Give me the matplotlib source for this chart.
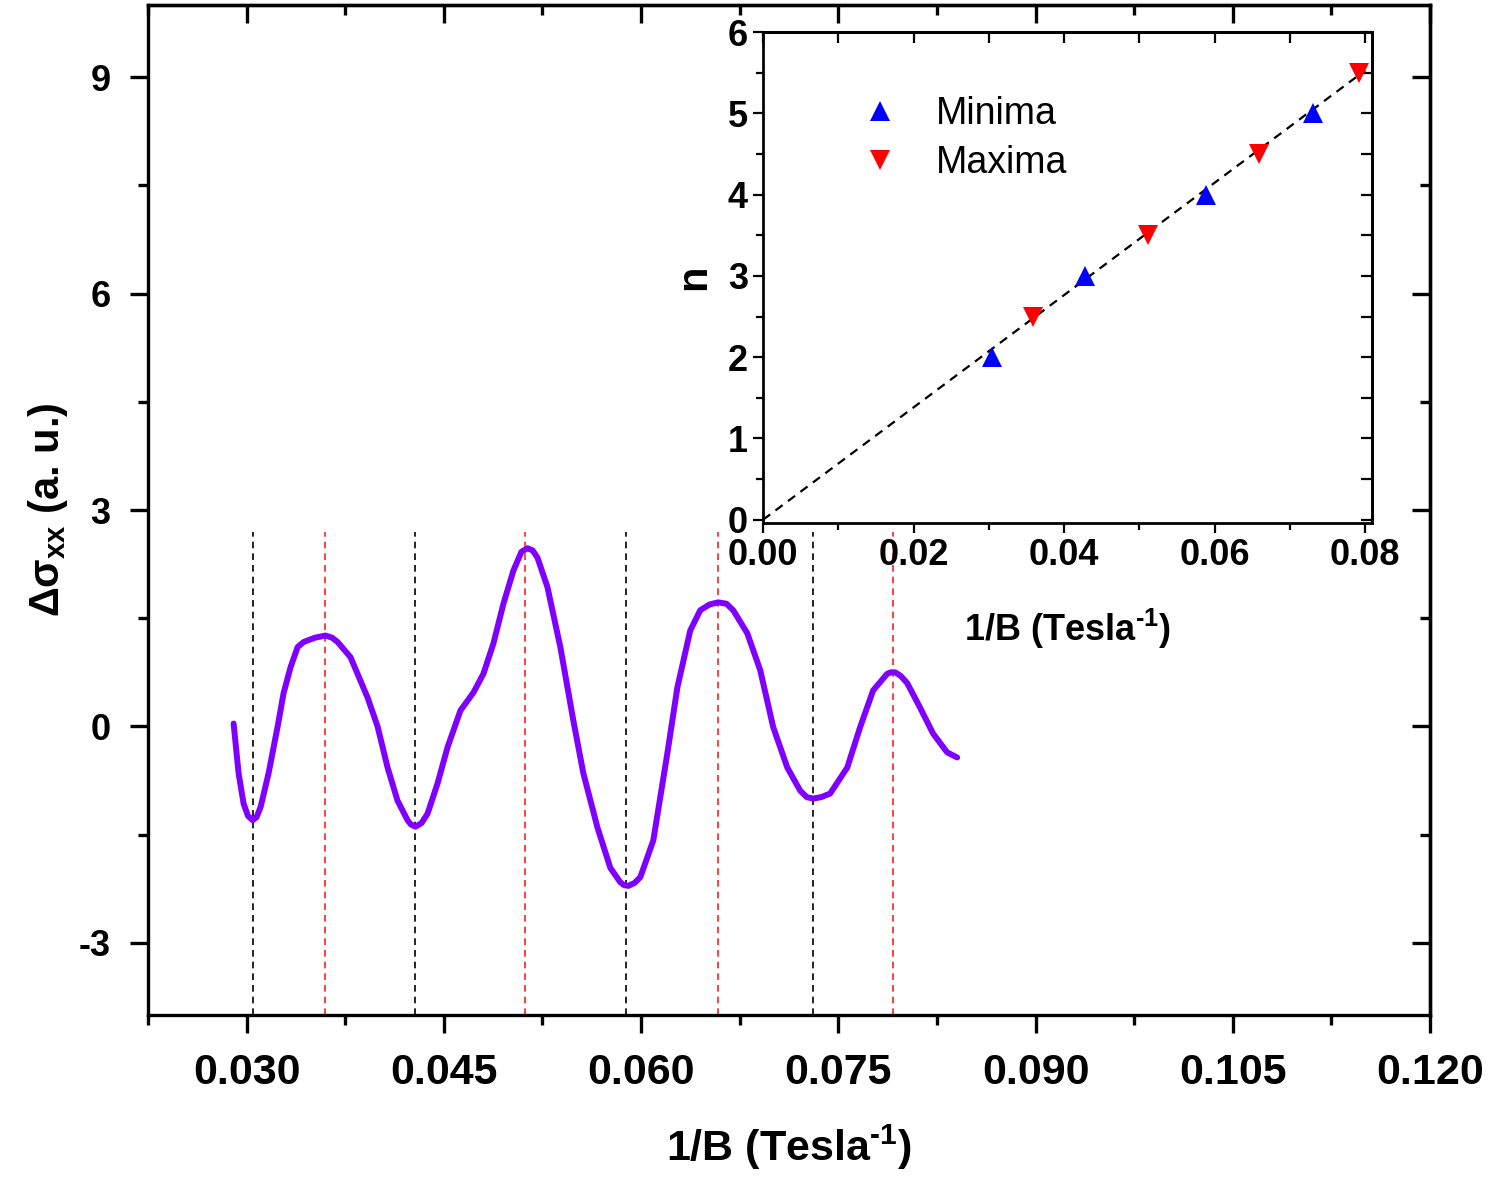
import matplotlib
matplotlib.use("Agg")
import matplotlib.pyplot as plt
from matplotlib.ticker import MultipleLocator, FixedLocator
import numpy as np

plt.rcParams['font.family'] = ['Liberation Sans', 'DejaVu Sans']
plt.rcParams['mathtext.fontset'] = 'custom'
plt.rcParams['mathtext.rm'] = 'Liberation Sans:bold'
plt.rcParams['mathtext.it'] = 'Liberation Sans:bold'
plt.rcParams['mathtext.bf'] = 'Liberation Sans:bold'
plt.rcParams['axes.unicode_minus'] = False

# ---- main curve: delta sigma_xx vs 1/B ----
inv_B = [0.02901, 0.02939, 0.02977, 0.03010, 0.03046, 0.03075, 0.03106, 0.03167,
         0.03236, 0.03281, 0.03334, 0.03388, 0.03433, 0.03520, 0.03600, 0.03650,
         0.03692, 0.03790, 0.03920, 0.03996, 0.04072, 0.04148, 0.04224, 0.04250,
         0.04285, 0.04330, 0.04376, 0.04452, 0.04528, 0.04626, 0.04725, 0.04801,
         0.04877, 0.04953, 0.05029, 0.05090, 0.05136, 0.05175, 0.05212, 0.05288,
         0.05386, 0.05485, 0.05561, 0.05668, 0.05766, 0.05842, 0.05870, 0.05903,
         0.05950, 0.05994, 0.06093, 0.06200, 0.06276, 0.06374, 0.06450, 0.06520,
         0.06587, 0.06650, 0.06701, 0.06808, 0.06906, 0.07005, 0.07112, 0.07210,
         0.07260, 0.07309, 0.07370, 0.07438, 0.07568, 0.07666, 0.07765, 0.07872,
         0.07900, 0.07932, 0.07975, 0.08024, 0.08122, 0.08221, 0.08328, 0.08404]
d_sigma = [0.04, -0.65, -1.07, -1.24, -1.30, -1.26, -1.12, -0.65,
           0.00, 0.46, 0.82, 1.10, 1.17, 1.23, 1.26, 1.23,
           1.17, 0.96, 0.40, 0.00, -0.57, -1.03, -1.30, -1.36,
           -1.39, -1.34, -1.21, -0.79, -0.29, 0.22, 0.47, 0.73,
           1.15, 1.70, 2.16, 2.42, 2.47, 2.44, 2.34, 1.93,
           1.10, 0.08, -0.65, -1.40, -1.96, -2.16, -2.20, -2.21,
           -2.17, -2.09, -1.58, -0.37, 0.54, 1.33, 1.61, 1.69,
           1.72, 1.70, 1.61, 1.29, 0.78, -0.01, -0.57, -0.89,
           -0.98, -1.00, -0.98, -0.93, -0.57, -0.01, 0.50, 0.73,
           0.75, 0.75, 0.70, 0.60, 0.26, -0.10, -0.36, -0.43]

# ---- extrema positions (1/B) and Landau level index n ----
minima_x = [0.03046, 0.04277, 0.05888, 0.07309]
minima_n = [2, 3, 4, 5]
maxima_x = [0.03593, 0.05120, 0.06587, 0.07917]
maxima_n = [2.5, 3.5, 4.5, 5.5]

# linear fit n = slope * (1/B) + intercept
fit_slope = 69.1
fit_intercept = 0.0
fit_range = [0.0, 0.080]

main_xticks = [0.030, 0.045, 0.060, 0.075, 0.090, 0.105, 0.120]
main_xticklabels = ["0.030", "0.045", "0.060", "0.075", "0.090", "0.105", "0.120"]
main_yticks = [-3, 0, 3, 6, 9]
main_yticklabels = ["-3", "0", "3", "6", "9"]
inset_xticks = [0.00, 0.02, 0.04, 0.06, 0.08]
inset_xticklabels = ["0.00", "0.02", "0.04", "0.06", "0.08"]
inset_yticks = [0, 1, 2, 3, 4, 5, 6]

W, H = 1492, 1178
fig = plt.figure(figsize=(W / 100, H / 100), dpi=100)

# main axes
ax = fig.add_axes([148 / W, 1 - 1015 / H, (1430 - 148) / W, (1015 - 5) / H])
ax.set_xlim(0.0225, 0.120)
ax.set_ylim(-4, 10)

vline_top = 2.7
for xv in minima_x:
    ax.plot([xv, xv], [-4, vline_top], color='black', lw=1.2, ls=(0, (4, 3)), zorder=1)
for xv in maxima_x:
    ax.plot([xv, xv], [-4, vline_top], color='#ff2020', lw=1.2, ls=(0, (4, 3)), zorder=1)

ax.plot(inv_B, d_sigma, color='#7f00ff', lw=4.3, solid_capstyle='round',
        solid_joinstyle='round', zorder=3)

for s in ax.spines.values():
    s.set_linewidth(2.4)

ax.xaxis.set_major_locator(FixedLocator(main_xticks))
ax.set_xticklabels(main_xticklabels)
ax.xaxis.set_minor_locator(MultipleLocator(0.0075))
ax.yaxis.set_major_locator(FixedLocator(main_yticks))
ax.set_yticklabels(main_yticklabels)
ax.yaxis.set_minor_locator(MultipleLocator(1.5))

ax.tick_params(axis='both', which='major', length=13, width=2.4)
ax.tick_params(axis='both', which='minor', length=7, width=2.4)
ax.tick_params(axis='x', which='both', direction='out', top=False)
ax.tick_params(axis='y', which='both', direction='out', right=False)
ax.tick_params(axis='x', which='major', labelsize=31, pad=14)
ax.tick_params(axis='y', which='major', labelsize=26, pad=14)
for lab in ax.get_xticklabels() + ax.get_yticklabels():
    lab.set_fontweight('bold')

# inward ticks on top and right
axt = ax.secondary_xaxis('top')
axt.xaxis.set_major_locator(FixedLocator(main_xticks))
axt.xaxis.set_minor_locator(MultipleLocator(0.0075))
axt.tick_params(which='major', direction='in', length=13, width=2.4, labeltop=False)
axt.tick_params(which='minor', direction='in', length=7, width=2.4)
axt.spines['top'].set_linewidth(2.4)
axr = ax.secondary_yaxis('right')
axr.yaxis.set_major_locator(FixedLocator(main_yticks))
axr.yaxis.set_minor_locator(MultipleLocator(1.5))
axr.tick_params(which='major', direction='in', length=13, width=2.4, labelright=False)
axr.tick_params(which='minor', direction='in', length=7, width=2.4)
axr.spines['right'].set_linewidth(2.4)

ax.set_xlabel("1/B (Tesla$^{\\mathbf{\u20101}}$)", fontsize=31, fontweight='bold', labelpad=22)
ax.set_ylabel(r"$\Delta\sigma_{\mathbf{xx}}$ (a. u.)", fontsize=30, fontweight='bold', labelpad=6)

# inset axes
ins = fig.add_axes([763 / W, 1 - 523 / H, (1372 - 763) / W, (523 - 32) / H])
ins.set_xlim(0.0, 0.0809)
ins.set_ylim(-0.04, 6.0)
xf = np.array(fit_range)
ins.plot(xf, fit_slope * xf + fit_intercept, color='black', lw=1.6, ls=(0, (4, 3)), zorder=1)
ins.plot(minima_x, minima_n, ls='none', marker='^', ms=15, color='#0000ff',
         markeredgewidth=0, label='Minima', zorder=3)
ins.plot(maxima_x, maxima_n, ls='none', marker='v', ms=15, color='#ff0000',
         markeredgewidth=0, label='Maxima', zorder=3)
for s in ins.spines.values():
    s.set_linewidth(2.0)
ins.xaxis.set_major_locator(FixedLocator(inset_xticks))
ins.set_xticklabels(inset_xticklabels)
ins.xaxis.set_minor_locator(MultipleLocator(0.01))
ins.yaxis.set_major_locator(FixedLocator(inset_yticks))
ins.yaxis.set_minor_locator(MultipleLocator(0.5))
ins.tick_params(axis='both', which='major', length=7, width=1.6, direction='out')
ins.tick_params(axis='both', which='minor', length=5, width=1.6, direction='out')
ins.tick_params(axis='both', which='major', labelsize=26, pad=4)
for lab in ins.get_xticklabels() + ins.get_yticklabels():
    lab.set_fontweight('bold')
it = ins.secondary_xaxis('top')
it.xaxis.set_major_locator(MultipleLocator(0.01))
it.tick_params(which='major', direction='in', length=8, width=1.6, labeltop=False)
it.spines['top'].set_linewidth(2.0)
ir = ins.secondary_yaxis('right')
ir.yaxis.set_major_locator(MultipleLocator(0.5))
ir.tick_params(which='major', direction='in', length=8, width=1.6, labelright=False)
ir.spines['right'].set_linewidth(2.0)

ins.set_xlabel("1/B (Tesla$^{\\mathbf{\u20101}}$)", fontsize=26, fontweight='bold', labelpad=24)
ins.set_ylabel("n", fontsize=30, fontweight='bold', labelpad=10)

leg = ins.legend(loc='upper left', bbox_to_anchor=(0.13, 0.90), frameon=False,
                 fontsize=27, handletextpad=0.9, labelspacing=0.35, handlelength=1.2,
                 borderaxespad=0)

fig.savefig("out.png", dpi=100)
